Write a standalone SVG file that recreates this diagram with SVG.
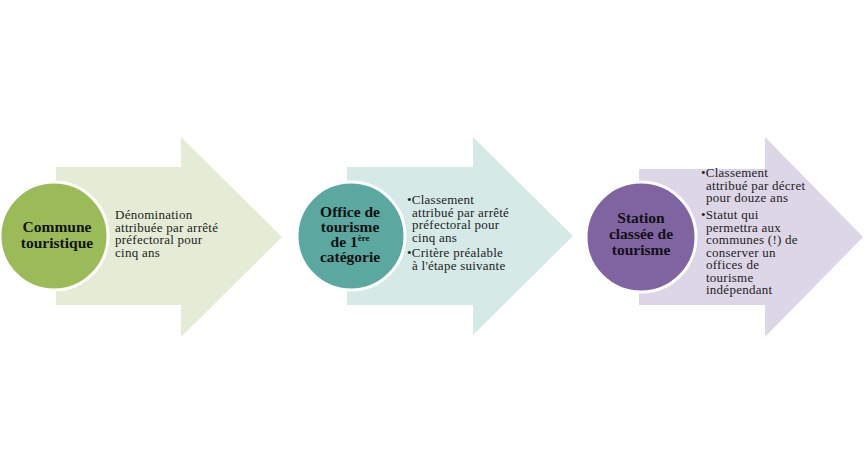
<svg xmlns="http://www.w3.org/2000/svg" width="866" height="474" viewBox="0 0 866 474">
<style>
.title{font-family:"Liberation Serif","Times New Roman",serif;font-weight:bold;font-size:15.5px;fill:#111;text-anchor:middle}
.body{font-family:"Liberation Serif","Times New Roman",serif;font-size:13px;letter-spacing:0.25px;fill:#222}
.circ{stroke:#fff;stroke-width:3}
</style>
<rect width="866" height="474" fill="#fff"/>
<g id="node1">
<polygon points="56,167 181,167 181,137 282,237 181,337 181,305 56,305" fill="#e4ecd6"/>
<circle class="circ" cx="54" cy="236" r="54" fill="#9bbb59"/>
<text class="title" x="57" y="232">Commune</text>
<text class="title" x="57" y="248">touristique</text>
<text class="body" x="115" y="219">Dénomination</text>
<text class="body" x="115" y="231.5">attribuée par arrêté</text>
<text class="body" x="115" y="244">préfectoral pour</text>
<text class="body" x="115" y="256.5">cinq ans</text>
</g>
<g id="node2">
<polygon points="347,167 473,167 473,137 573,236 473,335 473,305 347,305" fill="#d5e9e7"/>
<circle class="circ" cx="351" cy="236" r="54" fill="#5ba8a0"/>
<text class="title" x="350" y="217">Office de</text>
<text class="title" x="350" y="232">tourisme</text>
<text class="title" x="350" y="247">de 1<tspan font-size="9" dy="-6">ère</tspan></text>
<text class="title" x="350" y="262">catégorie</text>
<text class="body" x="407" y="204">•Classement</text>
<text class="body" x="412" y="216.7">attribué par arrêté</text>
<text class="body" x="412" y="229.3">préfectoral pour</text>
<text class="body" x="412" y="242">cinq ans</text>
<text class="body" x="407" y="257">•Critère préalable</text>
<text class="body" x="412" y="270">à l'étape suivante</text>
</g>
<g id="node3">
<polygon points="639,169 765,169 765,137 863,237 765,337 765,305 639,305" fill="#ddd6e7"/>
<circle class="circ" cx="641" cy="237" r="55" fill="#8064a2"/>
<text class="title" x="641" y="223">Station</text>
<text class="title" x="641" y="239">classée de</text>
<text class="title" x="641" y="255">tourisme</text>
<text class="body" x="701" y="177">•Classement</text>
<text class="body" x="706" y="189.5">attribué par décret</text>
<text class="body" x="706" y="202">pour douze ans</text>
<text class="body" x="701" y="219">•Statut qui</text>
<text class="body" x="706" y="231.5">permettra aux</text>
<text class="body" x="706" y="244">communes (!) de</text>
<text class="body" x="706" y="256.5">conserver un</text>
<text class="body" x="706" y="269">offices de</text>
<text class="body" x="706" y="281.5">tourisme</text>
<text class="body" x="706" y="294">indépendant</text>
</g>
<g id="connectors"></g>
</svg>
